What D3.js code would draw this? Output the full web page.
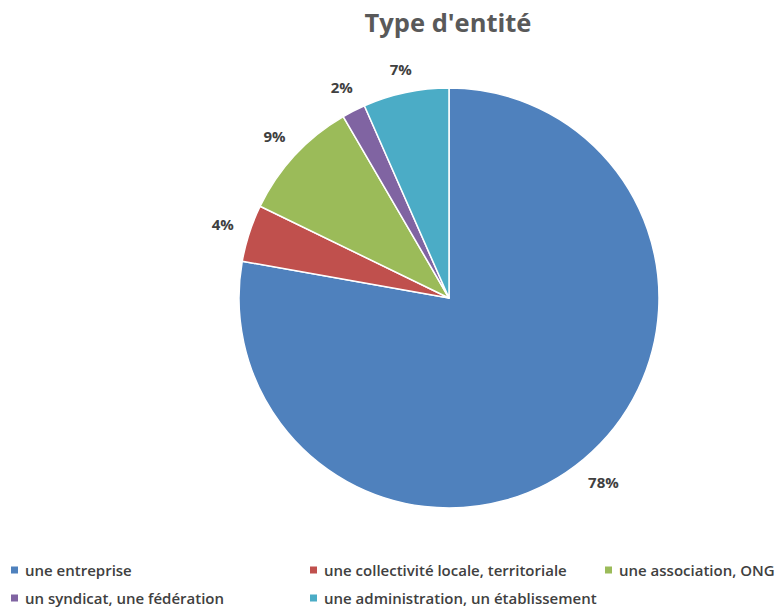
<!DOCTYPE html>
<html><head><meta charset="utf-8">
<script src="https://cdn.jsdelivr.net/npm/d3@7"></script>
<style>body{margin:0;background:#fff;} svg{display:block;}</style>
</head><body>
<svg id="c" width="775" height="608"></svg>
<script>
const title = "Type d'entité";
const categories = ["une entreprise","une collectivité locale, territoriale","une association, ONG","un syndicat, une fédération","une administration, un établissement"];
const values = [77.8, 4.4, 9.4, 1.8, 6.6];
const colors = ["#4F81BD","#C0504D","#9BBB59","#8064A2","#4BACC6"];

const svg = d3.select("#c");
const cx = 449, cy = 298, R = 210;
const total = d3.sum(values);
const fmt = d3.format(".0%");

svg.append("text").attr("x", 448).attr("y", 32).attr("text-anchor","middle")
  .attr("font-family","'Open Sans', sans-serif").attr("font-weight","bold")
  .attr("font-size", 25.5).attr("fill","#595959").text(title);

const pie = d3.pie().sort(null).value(d => d)(values);
const arc = d3.arc().innerRadius(0).outerRadius(R);
const g = svg.append("g").attr("transform", `translate(${cx},${cy})`);
g.selectAll("path").data(pie).join("path")
  .attr("d", arc).attr("fill", (d,i) => colors[i])
  .attr("stroke","#fff").attr("stroke-width",1.5).attr("stroke-linejoin","round");

const lbls = g.selectAll("text.lbl").data(pie).join("text").attr("class","lbl")
  .attr("text-anchor","middle").attr("dominant-baseline","central")
  .attr("font-family","'Open Sans', sans-serif").attr("font-weight","bold")
  .attr("font-size", 15).attr("fill","#404040")
  .text(d => fmt(d.data / total));
lbls.each(function(d){
  const bb = this.getBBox();
  const a = (d.startAngle + d.endAngle) / 2;
  const s = Math.sin(a), c = Math.cos(a);
  const r = R + 15 + (bb.width/2)*Math.abs(s) + 7*Math.abs(c);
  d3.select(this).attr("transform", `translate(${r*s},${-r*c})`);
});

const legendPos = [[11,570],[310,570],[605,570],[11,598],[310,598]];
const lg = svg.append("g");
categories.forEach((c,i) => {
  const [x,y] = legendPos[i];
  lg.append("rect").attr("x", x).attr("y", y-3.5).attr("width",7).attr("height",7).attr("fill", colors[i]);
  lg.append("text").attr("x", x+14).attr("y", y).attr("dominant-baseline","central")
    .attr("font-family","'Open Sans', sans-serif").attr("font-weight",600)
    .attr("font-size", 15).attr("fill","#404040").text(c);
});
</script>
</body></html>
